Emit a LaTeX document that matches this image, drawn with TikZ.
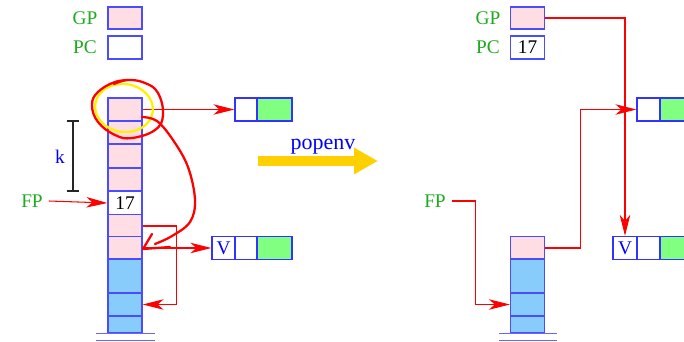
\documentclass[tikz,border=0pt]{standalone}
\usepackage{fontspec}
\setmainfont{Liberation Serif}
\usetikzlibrary{positioning, arrows.meta}

\definecolor{cellpink}{RGB}{255,221,228}
\definecolor{cellblue}{RGB}{135,204,250}
\definecolor{valgreen}{RGB}{128,255,128}
\definecolor{labgreen}{RGB}{30,170,30}
\definecolor{popyellow}{RGB}{255,208,0}

\begin{document}
\begin{tikzpicture}[x=0.02cm, y=-0.02cm,
    font=\fontsize{11}{13}\selectfont,
    cell/.style={draw=blue!70, line width=0.7pt, minimum width=0.68cm, minimum height=0.46cm, inner sep=0pt, fill=cellpink},
    free/.style={cell, fill=white},
    low/.style={cell, fill=cellblue},
    slot/.style={draw=blue!80, line width=0.7pt, minimum height=0.46cm, inner sep=0pt, fill=white},
    val/.style={slot, fill=valgreen, minimum width=0.7cm},
    reg/.style={text=labgreen},
    ptr/.style={-{Stealth[length=4.2mm, width=2.1mm, inset=1.2mm]}, red, line width=0.6pt},
    ground/.style={draw=blue!60, line width=0.8pt},
    scribble/.style={red, line width=1.3pt, line cap=round, line join=round}
]
    \useasboundingbox (0,0) rectangle (684,342);
    \clip (0,0) rectangle (684,342);

    % registers, left
    \node[cell, minimum height=0.44cm] (gpL) at (125,18) {};
    \node[free] (pcL) at (125,47.5) {};
    \node[reg] (gpLlab) at (85,18) {GP};
    \node[reg] (pcLlab) at (85,47) {PC};

    % stack, left
    \node[cell] (s1) at (125,109.5) {};
    \node[cell] (s2) at (125,132.5) {};
    \node[cell] (s3) at (125,156) {};
    \node[cell] (s4) at (125,179.5) {};
    \node[free] (s5) at (125,203) {17};
    \node[cell] (s6) at (125,226) {};
    \node[cell] (s7) at (125,248) {};
    \node[low, minimum height=0.68cm] (b1) at (125,276) {};
    \node[low] (b2) at (125,304.5) {};
    \node[low, minimum height=0.34cm] (b3) at (125,324.5) {};
    \draw[ground] ([xshift=-0.22cm]b3.south west) -- ([xshift=0.24cm]b3.south east);
    \draw[ground] ([xshift=-0.22cm,yshift=-0.14cm]b3.south west) -- ([xshift=0.24cm,yshift=-0.14cm]b3.south east);

    % heap objects, left
    \node[slot, minimum width=0.44cm] (t1) at (246,109.5) {};
    \node[val] (t2) at (274.5,109.5) {};
    \node[slot, minimum width=0.46cm, text=blue] (v1) at (223.5,248) {V};
    \node[slot, minimum width=0.44cm] (v2) at (246,248) {};
    \node[val] (v3) at (274.5,248) {};

    % k
    \coordinate (kt) at (73,121);
    \coordinate (kb) at (73,191);
    \draw[gray!30!black, line width=0.6pt] (kt) -- (kb);
    \draw[gray!30!black, line width=0.6pt] ([xshift=-0.12cm]kt) -- ([xshift=0.12cm]kt);
    \draw[gray!30!black, line width=0.6pt] ([xshift=-0.12cm]kb) -- ([xshift=0.12cm]kb);
    \node[text=blue] (k) at (60,157) {k};

    \node[reg] (fpL) at (32,201) {FP};

    \draw[ptr] (fpL.east) -- (s5.west);
    \draw[ptr] (s1.east) -- (t1.west);
    \draw[ptr] (s7.east) -- (v1.west);
    \draw[ptr] (s6.east) -- ++(34,0) |- (b2.east);

    % hand drawn marks
    \draw[yellow, line width=1.3pt, rotate around={-8:(124,108)}] (124,108) ellipse [x radius=0.58cm, y radius=0.48cm];
    \draw[scribble] plot[smooth, tension=0.7] coordinates {(132,80) (115,82) (98,92) (92,105) (98,122) (115,135) (132,138) (155,130) (163,115) (158,93) (145,83) (128,80) (114,84)};
    \draw[scribble] plot[smooth, tension=0.6] coordinates {(142,117) (157,121) (173,140) (188,167) (195,200) (190,222) (172,236) (155,244)};
    \draw[scribble] (152,234) -- (143,249) -- (170,247);

    % popenv
    \coordinate (popS) at (258,161);
    \coordinate (popE) at (378,161);
    \draw[popyellow, line width=0.21cm, -{Triangle[length=0.48cm, width=0.5cm]}] (popS) -- (popE);
    \node[text=blue, font=\fontsize{12.5}{14}\selectfont] (pop) at (323,147) {popenv};

    % registers, right
    \node[cell, minimum height=0.44cm] (gpR) at (527.5,18) {};
    \node[free] (pcR) at (527.5,47.5) {17};
    \node[reg] (gpRlab) at (488,18) {GP};
    \node[reg] (pcRlab) at (488,47) {PC};

    % stack, right
    \node[cell] (sR1) at (527.5,248) {};
    \node[low, minimum height=0.68cm] (sR2) at (527.5,276) {};
    \node[low] (sR3) at (527.5,304.5) {};
    \node[low, minimum height=0.34cm] (sR4) at (527.5,324.5) {};
    \draw[ground] ([xshift=-0.22cm]sR4.south west) -- ([xshift=0.24cm]sR4.south east);
    \draw[ground] ([xshift=-0.22cm,yshift=-0.14cm]sR4.south west) -- ([xshift=0.24cm,yshift=-0.14cm]sR4.south east);

    % heap objects, right
    \node[slot, minimum width=0.46cm] (tR1) at (648.5,109.5) {};
    \node[val] (tR2) at (677.5,109.5) {};
    \node[slot, minimum width=0.48cm, text=blue] (vR1) at (625,248) {V};
    \node[slot, minimum width=0.46cm] (vR2) at (648.5,248) {};
    \node[val] (vR3) at (677.5,248) {};

    \node[reg] (fpR) at (435,201) {FP};

    \draw[ptr] (gpR.east) -| (vR1.north);
    \draw[ptr] (sR1.east) -- ++(35,0) |- (tR1.west);
    \draw[ptr] (fpR.east) -- ++(24,0) |- (sR3.west);
\end{tikzpicture}
\end{document}
